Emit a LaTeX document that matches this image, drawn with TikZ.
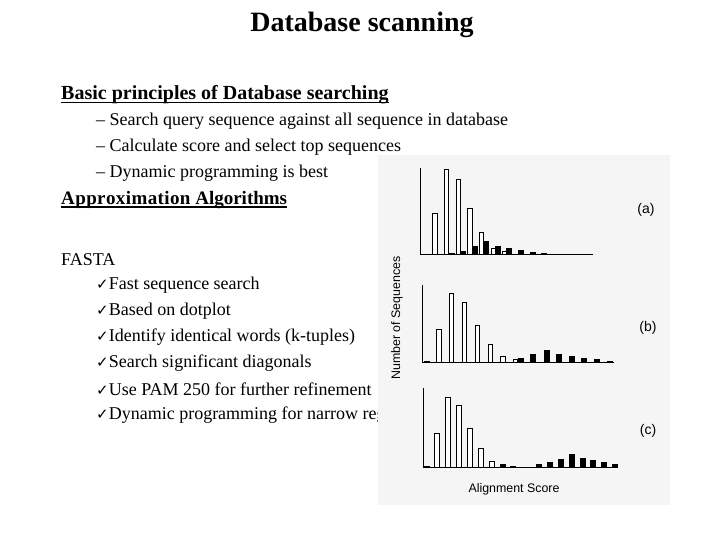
\documentclass[tikz,border=0pt]{standalone}
\usepackage{fontspec}
\setmainfont{Liberation Serif}
\setsansfont{Liberation Sans}
\newfontfamily\symfont{DejaVu Sans}
\tikzset{
  body/.style={anchor=west,inner sep=0pt,font=\fontsize{18}{20}\selectfont},
  head/.style={anchor=west,inner sep=0pt,font=\fontsize{20}{22}\selectfont\bfseries},
  openbar/.style={draw=black,fill=white,line width=1pt},
  fullbar/.style={fill=black},
  plotlabel/.style={font=\sffamily\fontsize{12.4}{14}\selectfont},
}
\newcommand{\chk}{{\symfont\fontsize{15}{16}\selectfont ✓}}
\begin{document}
\begin{tikzpicture}[x=1pt,y=-1pt]
    \useasboundingbox (0,0) rectangle (720,540);
    \fill[white] (0,0) rectangle (720,540);

    % Titulo y texto
    \node[inner sep=0pt,font=\fontsize{28}{30}\selectfont\bfseries] (title) at (362,25) {Database scanning};
    \node[head] (basic) at (61,95) {Basic principles of Database searching};
    \draw[line width=1.2pt] ([yshift=-2.5pt]basic.base west) -- ([yshift=-2.5pt]basic.base east);
    \node[body] (b1) at (96,121) {-- Search query sequence against all sequence in database};
    \node[body] (b2) at (96,147) {-- Calculate score and select top sequences};
    \node[body] (b3) at (96,173) {-- Dynamic programming is best};
    \node[head,font=\fontsize{19}{22}\selectfont\bfseries] (approx) at (61,200) {A\kern.4pt p\kern.4pt p\kern.4pt r\kern.4pt o\kern.4pt x\kern.4pt i\kern.4pt m\kern.4pt a\kern.4pt t\kern.4pt i\kern.4pt o\kern.4pt n Algorithms};
    \draw[line width=1.2pt] ([yshift=-2.5pt]approx.base west) -- ([yshift=-2.5pt]approx.base east);
    \node[body] (fasta) at (61,260) {FASTA};
    \node[body] (c1) at (96,285) {\chk Fast sequence search};
    \node[body] (c2) at (96,311) {\chk Based on dotplot};
    \node[body] (c3) at (96,337) {\chk Identify identical words (k-tuples)};
    \node[body] (c4) at (96,363) {\chk Search significant diagonals};
    \node[body] (c5) at (96,389) {\chk Use PAM 250 for further refinement};
    \node[body] (c6) at (96,415) {\chk Dynamic programming for narrow region};

    % Figura de histogramas
    \fill[black!4] (378,155) rectangle (670,505);

    % Panel (a)
    \draw[line width=0.8pt] (420,168) -- (420,254) -- (593,254);
    \foreach \x/\t in {180/175,215/45,250/75,285/160,320/233,355/280,390/290}
        \draw[openbar] ({375+\x/3-2.2},254) rectangle ({375+\x/3+2.2},{155+\t/3});
    \foreach \x/\t in {147/296,230/295,265/287,300/272,333/257,368/273,403/280,437/286,473/291,508/294}
        \fill[fullbar] ({375+\x/3-3},254) rectangle ({375+\x/3+3},{155+\t/3});
    \node[plotlabel,font=\sffamily\fontsize{14}{16}\selectfont] (la) at (646,210) {(a)};

    % Panel (b)
    \draw[line width=0.8pt] (422,285) -- (422,362) -- (614,362);
    \foreach \x/\t in {192/522,230/415,268/442,307/510,346/568,384/604,422/614}
        \draw[openbar] ({375+\x/3-2.2},362) rectangle ({375+\x/3+2.2},{155+\t/3});
    \foreach \x/\t in {155/619,437/610,475/598,515/584,553/597,590/603,628/609,667/613,705/618}
        \fill[fullbar] ({375+\x/3-3},362) rectangle ({375+\x/3+3},{155+\t/3});
    \node[plotlabel,font=\sffamily\fontsize{14}{16}\selectfont] (lb) at (648,328) {(b)};

    % Panel (c)
    \draw[line width=0.8pt] (423,388) -- (423,467) -- (618,467);
    \foreach \x/\t in {186/835,219/727,252/752,285/820,318/880,351/918}
        \draw[openbar] ({375+\x/3-2.2},467) rectangle ({375+\x/3+2.2},{155+\t/3});
    \foreach \x/\t in {155/932,383/928,415/932,492/928,525/922,558/911,590/898,623/910,655/914,688/920,720/926}
        \fill[fullbar] ({375+\x/3-3},467) rectangle ({375+\x/3+3},{155+\t/3});
    \node[plotlabel,font=\sffamily\fontsize{14}{16}\selectfont] (lc) at (648,431) {(c)};

    % Ejes
    \node[plotlabel,rotate=90] (ylab) at (397,318) {Number of Sequences};
    \node[plotlabel] (xlab) at (514,489) {Alignment Score};
\end{tikzpicture}
\end{document}
